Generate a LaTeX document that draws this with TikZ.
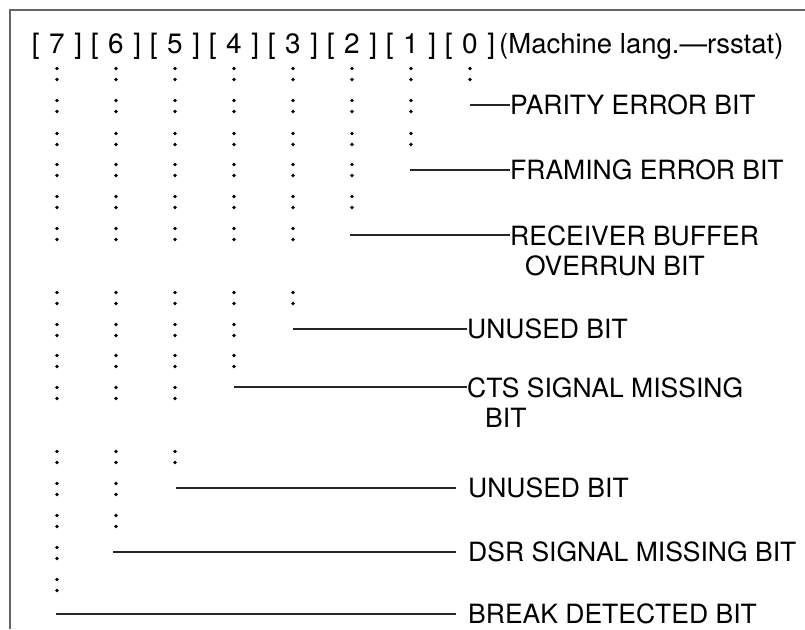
\documentclass[tikz,border=0pt]{standalone}
\usepackage{fontspec}
\setmainfont{TeX Gyre Heros}

\begin{document}
\begin{tikzpicture}[x=1pt, y=-1pt,
  bitno/.style={font=\fontsize{28}{33}\selectfont, anchor=base, inner sep=0pt},
  lbl/.style={font=\fontsize{26.5}{30}\selectfont, anchor=west, inner sep=0pt, text height=19pt, text depth=0pt},
  lbltwo/.style={font=\fontsize{26.5}{30}\selectfont, anchor=north west, inner sep=0pt, align=left},
  lead/.style={line width=1.4pt, black!85},
  gapped/.style={lead, shorten >=12pt}]
  \useasboundingbox (0,0) rectangle (805,629);
  \draw[line width=1.6pt, black!60] (10,629) -- (10,10) -- (805,10);
  % register bits
  \node[bitno] (b7) at (57,53) {[\hspace{9.5pt}7\hspace{9.5pt}]};
  \node[bitno] (b6) at (116,53) {[\hspace{9.5pt}6\hspace{9.5pt}]};
  \node[bitno] (b5) at (175,53) {[\hspace{9.5pt}5\hspace{9.5pt}]};
  \node[bitno] (b4) at (234,53) {[\hspace{9.5pt}4\hspace{9.5pt}]};
  \node[bitno] (b3) at (293,53) {[\hspace{9.5pt}3\hspace{9.5pt}]};
  \node[bitno] (b2) at (352,53) {[\hspace{9.5pt}2\hspace{9.5pt}]};
  \node[bitno] (b1) at (411,53) {[\hspace{9.5pt}1\hspace{9.5pt}]};
  \node[bitno] (b0) at (470,53) {[\hspace{9.5pt}0\hspace{9.5pt}]};
  \node[bitno, anchor=base west, font=\fontsize{27.5}{33}\selectfont] (lang) at (499,53) {(Machine lang.—rsstat)};
  % dotted columns
  \foreach \y [count=\r] in {74,106,139,170,202,234,298,330,361,393,457,489,521,553,585} {
    \pgfmathtruncatemacro\bmin{ceil((\r-1)/2)}
    \foreach \b in {\bmin,...,7}
      \fill (470-59*\b,\y-5.5) circle (1.8pt) (470-59*\b,\y+5.5) circle (1.8pt);
  }
  % bit 0 .. 2
  \coordinate (s0) at (470,105);
  \node[lbl] (par) at (510,105) {PARITY ERROR BIT};
  \draw[lead] (s0) -- (par.west);
  \coordinate (s1) at (410,170);
  \node[lbl] (fram) at (510,170) {FRAMING ERROR BIT};
  \draw[lead] (s1) -- (fram.west);
  \coordinate (s2) at (350,235);
  \node[lbltwo] (rbuf) at (510,225.5) {RECEIVER BUFFER\\\hspace*{15pt}OVERRUN BIT};
  \draw[lead] (s2) -- (s2 -| rbuf.west);
  % bit 3, 4
  \coordinate (s3) at (293,329);
  \node[lbl] (unus3) at (467,329) {UNUSED BIT};
  \draw[lead] (s3) -- (unus3.west);
  \coordinate (s4) at (234,387);
  \node[lbltwo] (cts) at (467,377.5) {CTS SIGNAL MISSING\\\hspace*{18pt}BIT};
  \draw[lead] (s4) -- (s4 -| cts.west);
  % bit 5 .. 7
  \coordinate (s5) at (176,488);
  \node[lbl] (unus5) at (468,488) {UNUSED BIT};
  \draw[gapped] (s5) -- (unus5.west);
  \coordinate (s6) at (113,552);
  \node[lbl] (dsr) at (468,552) {DSR SIGNAL MISSING BIT};
  \draw[gapped] (s6) -- (dsr.west);
  \coordinate (s7) at (56,614);
  \node[lbl] (brk) at (468,614) {BREAK DETECTED BIT};
  \draw[gapped] (s7) -- (brk.west);
\end{tikzpicture}
\end{document}
